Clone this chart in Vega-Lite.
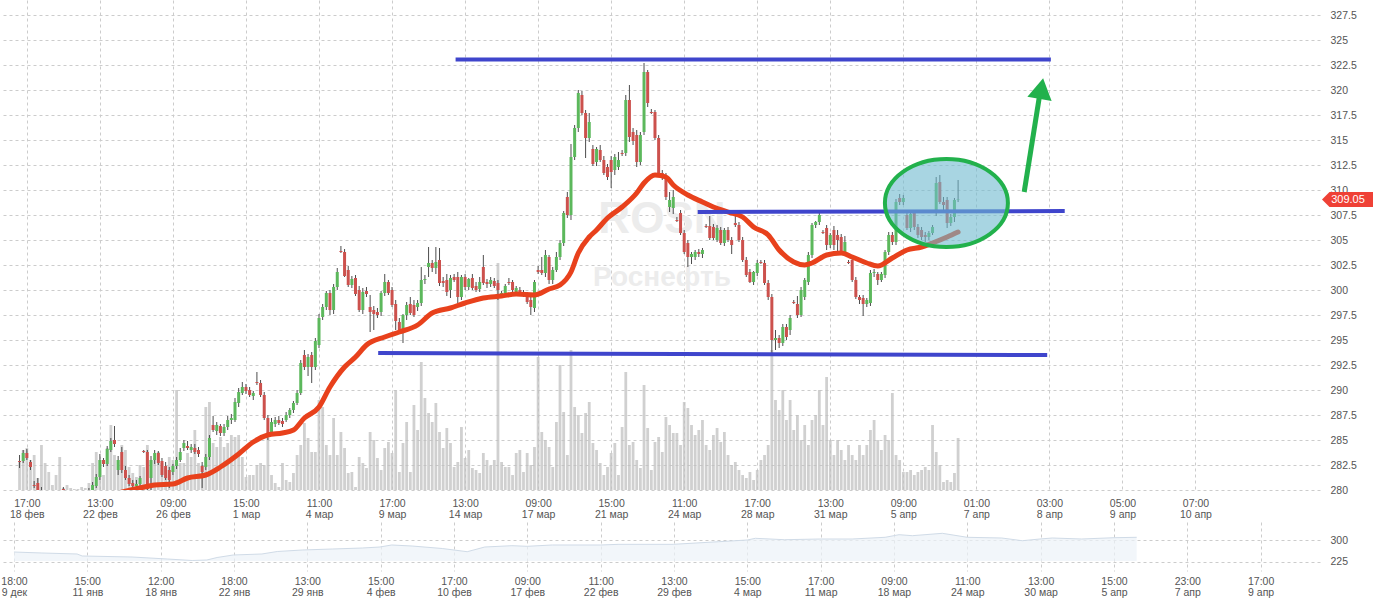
{
"$schema": "https://vega.github.io/schema/vega-lite/v6.json",
"padding": 0,
"background": "#ffffff",
"spacing": 2,
"config": {"view": {"stroke": null}, "axis": {"labelFont": "Liberation Sans", "labelFontSize": 10.5, "labelColor": "#555555", "gridColor": "#cccccc", "gridDash": [3, 3], "domain": false, "ticks": false}},
"datasets": {
"candles": [
{"i":0,"o":282.9,"h":283.5,"l":282.2,"c":282.8,"v":28},
{"i":1,"o":282.9,"h":284.0,"l":282.7,"c":283.7,"v":40},
{"i":2,"o":283.7,"h":284.1,"l":283.0,"c":283.2,"v":42},
{"i":3,"o":282.8,"h":283.0,"l":282.0,"c":282.3,"v":30},
{"i":4,"o":280.5,"h":280.9,"l":280.2,"c":280.4,"v":35},
{"i":5,"o":280.7,"h":281.2,"l":279.6,"c":280.0,"v":12},
{"i":6,"o":280.0,"h":280.3,"l":279.3,"c":279.6,"v":45},
{"i":7,"o":279.5,"h":279.8,"l":279.0,"c":279.2,"v":27},
{"i":8,"o":279.2,"h":279.6,"l":278.8,"c":279.3,"v":18},
{"i":9,"o":279.3,"h":279.7,"l":278.9,"c":279.0,"v":5},
{"i":10,"o":279.0,"h":279.4,"l":278.6,"c":278.9,"v":15},
{"i":11,"o":278.9,"h":279.5,"l":278.7,"c":279.3,"v":33},
{"i":12,"o":280.1,"h":280.3,"l":279.5,"c":280.0,"v":2},
{"i":13,"o":279.6,"h":279.9,"l":279.2,"c":279.4,"v":5},
{"i":14,"o":279.4,"h":279.7,"l":279.0,"c":279.5,"v":2},
{"i":15,"o":279.5,"h":279.8,"l":279.1,"c":279.3,"v":1},
{"i":16,"o":279.3,"h":279.6,"l":278.9,"c":279.2,"v":1},
{"i":17,"o":279.2,"h":279.7,"l":279.0,"c":279.6,"v":3},
{"i":18,"o":279.6,"h":279.9,"l":279.3,"c":279.7,"v":2},
{"i":19,"o":279.7,"h":280.2,"l":279.5,"c":280.0,"v":7},
{"i":20,"o":280.0,"h":280.8,"l":279.8,"c":280.5,"v":27},
{"i":21,"o":280.4,"h":281.6,"l":280.2,"c":281.3,"v":38},
{"i":22,"o":281.3,"h":283.6,"l":281.0,"c":283.0,"v":30},
{"i":23,"o":283.0,"h":283.2,"l":282.3,"c":282.6,"v":15},
{"i":24,"o":282.6,"h":284.4,"l":282.4,"c":284.1,"v":42},
{"i":25,"o":284.0,"h":285.2,"l":283.8,"c":284.9,"v":65},
{"i":26,"o":285.0,"h":286.4,"l":284.3,"c":284.6,"v":35},
{"i":27,"o":282.0,"h":283.4,"l":281.5,"c":283.0,"v":30},
{"i":28,"o":283.8,"h":284.3,"l":281.7,"c":282.0,"v":45},
{"i":29,"o":282.0,"h":282.4,"l":281.0,"c":281.2,"v":40},
{"i":30,"o":281.2,"h":281.5,"l":280.4,"c":280.6,"v":23},
{"i":31,"o":280.7,"h":281.0,"l":280.2,"c":280.4,"v":17},
{"i":32,"o":280.4,"h":281.0,"l":280.1,"c":280.6,"v":13},
{"i":33,"o":280.6,"h":281.4,"l":280.4,"c":281.2,"v":25},
{"i":34,"o":283.9,"h":284.0,"l":283.7,"c":283.8,"v":23},
{"i":35,"o":283.8,"h":284.0,"l":280.0,"c":280.1,"v":45},
{"i":36,"o":281.2,"h":283.4,"l":280.0,"c":283.0,"v":30},
{"i":37,"o":283.0,"h":284.0,"l":282.6,"c":283.7,"v":32},
{"i":38,"o":283.7,"h":283.9,"l":282.5,"c":282.7,"v":38},
{"i":39,"o":282.9,"h":283.2,"l":281.3,"c":281.5,"v":27},
{"i":40,"o":282.4,"h":282.8,"l":281.0,"c":281.2,"v":22},
{"i":41,"o":282.0,"h":282.3,"l":280.2,"c":281.0,"v":33},
{"i":42,"o":281.8,"h":282.6,"l":281.5,"c":282.4,"v":30},
{"i":43,"o":282.4,"h":283.3,"l":282.1,"c":283.0,"v":100},
{"i":44,"o":283.0,"h":284.2,"l":282.8,"c":283.8,"v":27},
{"i":45,"o":284.2,"h":285.0,"l":283.9,"c":284.7,"v":27},
{"i":46,"o":284.4,"h":284.9,"l":284.0,"c":284.2,"v":37},
{"i":47,"o":284.0,"h":284.6,"l":283.7,"c":284.3,"v":33},
{"i":48,"o":284.2,"h":284.6,"l":283.6,"c":283.8,"v":60},
{"i":49,"o":284.0,"h":284.3,"l":283.3,"c":283.6,"v":27},
{"i":50,"o":282.4,"h":282.8,"l":280.2,"c":281.8,"v":25},
{"i":51,"o":282.3,"h":283.6,"l":282.0,"c":283.3,"v":83},
{"i":52,"o":283.3,"h":285.5,"l":283.0,"c":285.2,"v":88},
{"i":53,"o":286.5,"h":287.4,"l":285.8,"c":286.0,"v":47},
{"i":54,"o":285.9,"h":286.8,"l":285.5,"c":286.5,"v":43},
{"i":55,"o":286.4,"h":286.6,"l":285.4,"c":285.7,"v":53},
{"i":56,"o":285.7,"h":286.6,"l":285.4,"c":286.3,"v":43},
{"i":57,"o":286.3,"h":287.4,"l":286.0,"c":287.0,"v":47},
{"i":58,"o":287.0,"h":287.6,"l":286.6,"c":287.2,"v":55},
{"i":59,"o":287.0,"h":289.2,"l":286.8,"c":288.8,"v":53},
{"i":60,"o":288.7,"h":290.2,"l":288.3,"c":289.8,"v":55},
{"i":61,"o":289.7,"h":290.8,"l":289.5,"c":290.3,"v":33},
{"i":62,"o":290.3,"h":290.6,"l":289.6,"c":289.9,"v":13},
{"i":63,"o":290.0,"h":290.3,"l":289.3,"c":289.5,"v":15},
{"i":64,"o":289.4,"h":289.9,"l":289.0,"c":289.7,"v":15},
{"i":65,"o":290.8,"h":291.8,"l":290.5,"c":290.7,"v":25},
{"i":66,"o":290.7,"h":291.0,"l":289.3,"c":289.5,"v":27},
{"i":67,"o":289.5,"h":289.8,"l":287.0,"c":287.2,"v":25},
{"i":68,"o":287.2,"h":287.5,"l":285.0,"c":285.7,"v":52},
{"i":69,"o":285.8,"h":287.2,"l":285.5,"c":286.8,"v":15},
{"i":70,"o":286.6,"h":287.3,"l":286.3,"c":287.0,"v":7},
{"i":71,"o":287.0,"h":287.4,"l":286.5,"c":286.7,"v":3},
{"i":72,"o":286.9,"h":287.2,"l":286.3,"c":286.6,"v":27},
{"i":73,"o":287.0,"h":287.8,"l":286.8,"c":287.5,"v":10},
{"i":74,"o":287.5,"h":288.2,"l":287.2,"c":288.0,"v":8},
{"i":75,"o":288.0,"h":288.9,"l":287.7,"c":288.7,"v":17},
{"i":76,"o":288.7,"h":290.0,"l":288.5,"c":289.7,"v":35},
{"i":77,"o":289.7,"h":293.0,"l":289.5,"c":292.7,"v":45},
{"i":78,"o":293.5,"h":294.0,"l":292.0,"c":292.3,"v":67},
{"i":79,"o":292.3,"h":293.6,"l":291.4,"c":293.3,"v":52},
{"i":80,"o":293.5,"h":293.8,"l":290.7,"c":292.3,"v":38},
{"i":81,"o":292.3,"h":295.2,"l":292.0,"c":294.9,"v":38},
{"i":82,"o":294.5,"h":297.6,"l":294.2,"c":297.2,"v":90},
{"i":83,"o":297.3,"h":298.6,"l":297.0,"c":298.3,"v":83},
{"i":84,"o":298.3,"h":299.9,"l":298.0,"c":299.7,"v":45},
{"i":85,"o":299.7,"h":300.0,"l":297.5,"c":298.0,"v":35},
{"i":86,"o":298.0,"h":300.6,"l":297.6,"c":300.3,"v":72},
{"i":87,"o":300.3,"h":302.2,"l":300.0,"c":301.8,"v":35},
{"i":88,"o":303.9,"h":304.4,"l":303.7,"c":303.8,"v":58},
{"i":89,"o":303.8,"h":304.1,"l":301.3,"c":301.4,"v":42},
{"i":90,"o":302.0,"h":302.4,"l":300.3,"c":300.5,"v":17},
{"i":91,"o":300.5,"h":301.4,"l":300.2,"c":301.1,"v":18},
{"i":92,"o":301.2,"h":301.5,"l":299.4,"c":299.6,"v":3},
{"i":93,"o":300.0,"h":300.4,"l":297.8,"c":298.0,"v":33},
{"i":94,"o":298.0,"h":300.2,"l":297.6,"c":299.8,"v":27},
{"i":95,"o":299.9,"h":300.3,"l":299.3,"c":299.6,"v":22},
{"i":96,"o":298.3,"h":299.5,"l":295.8,"c":297.8,"v":58},
{"i":97,"o":298.0,"h":298.4,"l":296.0,"c":297.6,"v":50},
{"i":98,"o":297.8,"h":298.2,"l":297.2,"c":297.5,"v":32},
{"i":99,"o":297.8,"h":299.9,"l":297.4,"c":299.7,"v":20},
{"i":100,"o":299.7,"h":301.6,"l":299.4,"c":300.8,"v":42},
{"i":101,"o":300.8,"h":301.0,"l":299.5,"c":299.7,"v":48},
{"i":102,"o":300.0,"h":300.3,"l":298.3,"c":298.5,"v":37},
{"i":103,"o":298.6,"h":299.0,"l":296.0,"c":296.9,"v":100},
{"i":104,"o":296.8,"h":297.2,"l":295.6,"c":296.0,"v":18},
{"i":105,"o":296.0,"h":297.6,"l":294.7,"c":297.5,"v":47},
{"i":106,"o":297.5,"h":298.8,"l":297.0,"c":298.5,"v":68},
{"i":107,"o":298.6,"h":299.3,"l":297.5,"c":297.7,"v":18},
{"i":108,"o":298.5,"h":299.0,"l":297.3,"c":297.5,"v":85},
{"i":109,"o":298.3,"h":299.0,"l":297.9,"c":298.7,"v":60},
{"i":110,"o":298.7,"h":302.3,"l":298.4,"c":301.0,"v":128},
{"i":111,"o":301.0,"h":301.5,"l":300.6,"c":301.1,"v":92},
{"i":112,"o":302.3,"h":304.3,"l":301.3,"c":302.7,"v":77},
{"i":113,"o":302.7,"h":303.0,"l":301.8,"c":302.2,"v":68},
{"i":114,"o":302.2,"h":304.3,"l":301.6,"c":302.8,"v":87},
{"i":115,"o":303.0,"h":304.2,"l":300.4,"c":300.7,"v":58},
{"i":116,"o":300.9,"h":301.3,"l":300.3,"c":300.7,"v":42},
{"i":117,"o":301.0,"h":301.6,"l":299.4,"c":299.8,"v":62},
{"i":118,"o":300.0,"h":301.5,"l":299.2,"c":301.2,"v":47},
{"i":119,"o":301.3,"h":301.6,"l":300.8,"c":301.0,"v":23},
{"i":120,"o":301.3,"h":301.8,"l":298.7,"c":299.3,"v":28},
{"i":121,"o":299.3,"h":301.5,"l":299.0,"c":301.3,"v":63},
{"i":122,"o":301.3,"h":301.6,"l":300.0,"c":300.3,"v":32},
{"i":123,"o":300.3,"h":301.2,"l":300.0,"c":301.1,"v":40},
{"i":124,"o":301.2,"h":301.6,"l":300.0,"c":300.2,"v":22},
{"i":125,"o":300.4,"h":300.8,"l":299.8,"c":300.0,"v":20},
{"i":126,"o":300.1,"h":301.3,"l":299.8,"c":300.8,"v":17},
{"i":127,"o":302.3,"h":303.5,"l":300.5,"c":300.7,"v":37},
{"i":128,"o":300.8,"h":301.1,"l":300.2,"c":300.6,"v":30},
{"i":129,"o":300.6,"h":301.3,"l":300.3,"c":301.0,"v":24},
{"i":130,"o":300.9,"h":301.2,"l":300.2,"c":300.4,"v":30},
{"i":131,"o":300.7,"h":301.0,"l":299.0,"c":300.0,"v":227},
{"i":132,"o":299.6,"h":299.9,"l":299.3,"c":299.7,"v":28},
{"i":133,"o":299.7,"h":300.6,"l":299.4,"c":300.4,"v":23},
{"i":134,"o":300.8,"h":301.2,"l":300.5,"c":300.7,"v":23},
{"i":135,"o":300.8,"h":301.0,"l":299.8,"c":300.0,"v":15},
{"i":136,"o":299.8,"h":300.4,"l":299.5,"c":300.2,"v":37},
{"i":137,"o":300.0,"h":300.3,"l":299.5,"c":299.7,"v":40},
{"i":138,"o":299.8,"h":300.0,"l":299.3,"c":299.5,"v":18},
{"i":139,"o":299.5,"h":299.8,"l":298.6,"c":298.8,"v":37},
{"i":140,"o":299.0,"h":299.4,"l":297.5,"c":298.3,"v":25},
{"i":141,"o":298.2,"h":301.0,"l":297.8,"c":300.8,"v":43},
{"i":142,"o":302.0,"h":302.4,"l":301.6,"c":301.8,"v":133},
{"i":143,"o":302.0,"h":303.3,"l":301.5,"c":301.7,"v":58},
{"i":144,"o":301.7,"h":304.0,"l":301.3,"c":303.5,"v":50},
{"i":145,"o":303.3,"h":303.5,"l":300.6,"c":301.0,"v":43},
{"i":146,"o":301.0,"h":302.3,"l":300.6,"c":302.0,"v":23},
{"i":147,"o":302.0,"h":303.8,"l":301.8,"c":303.3,"v":68},
{"i":148,"o":303.3,"h":305.0,"l":303.0,"c":304.7,"v":125},
{"i":149,"o":304.7,"h":307.9,"l":304.4,"c":307.7,"v":78},
{"i":150,"o":309.3,"h":309.8,"l":307.2,"c":307.5,"v":35},
{"i":151,"o":307.5,"h":314.6,"l":307.0,"c":313.3,"v":140},
{"i":152,"o":313.3,"h":316.5,"l":313.0,"c":316.2,"v":83},
{"i":153,"o":316.2,"h":320.0,"l":315.8,"c":319.7,"v":75},
{"i":154,"o":319.5,"h":319.9,"l":317.5,"c":317.7,"v":57},
{"i":155,"o":317.7,"h":318.0,"l":313.2,"c":315.2,"v":77},
{"i":156,"o":315.2,"h":317.7,"l":314.8,"c":316.8,"v":88},
{"i":157,"o":314.1,"h":314.5,"l":312.4,"c":312.6,"v":47},
{"i":158,"o":312.8,"h":314.3,"l":312.4,"c":314.1,"v":40},
{"i":159,"o":314.0,"h":314.5,"l":312.8,"c":313.0,"v":27},
{"i":160,"o":313.0,"h":313.4,"l":311.5,"c":311.7,"v":15},
{"i":161,"o":312.3,"h":312.6,"l":311.0,"c":311.3,"v":23},
{"i":162,"o":313.0,"h":313.4,"l":310.2,"c":311.8,"v":37},
{"i":163,"o":312.0,"h":313.6,"l":311.5,"c":313.3,"v":47},
{"i":164,"o":312.3,"h":313.8,"l":312.0,"c":313.0,"v":15},
{"i":165,"o":313.7,"h":314.0,"l":313.4,"c":313.6,"v":63},
{"i":166,"o":313.7,"h":319.5,"l":313.4,"c":319.0,"v":118},
{"i":167,"o":319.0,"h":320.5,"l":314.8,"c":315.3,"v":45},
{"i":168,"o":315.8,"h":316.2,"l":314.5,"c":314.9,"v":48},
{"i":169,"o":315.5,"h":316.0,"l":312.3,"c":312.8,"v":30},
{"i":170,"o":312.8,"h":315.8,"l":312.5,"c":315.5,"v":22},
{"i":171,"o":315.8,"h":322.7,"l":315.5,"c":321.8,"v":105},
{"i":172,"o":321.8,"h":322.0,"l":318.3,"c":318.7,"v":62},
{"i":173,"o":317.8,"h":318.1,"l":317.6,"c":317.7,"v":20},
{"i":174,"o":317.8,"h":318.0,"l":315.0,"c":315.2,"v":48},
{"i":175,"o":315.2,"h":315.5,"l":311.5,"c":311.7,"v":53},
{"i":176,"o":311.7,"h":312.0,"l":311.0,"c":311.3,"v":38},
{"i":177,"o":311.3,"h":311.7,"l":309.0,"c":309.3,"v":73},
{"i":178,"o":308.3,"h":309.8,"l":307.8,"c":309.0,"v":65},
{"i":179,"o":308.2,"h":310.0,"l":307.6,"c":309.3,"v":57},
{"i":180,"o":307.0,"h":307.3,"l":306.8,"c":306.9,"v":57},
{"i":181,"o":307.7,"h":308.0,"l":305.5,"c":305.7,"v":45},
{"i":182,"o":305.7,"h":306.0,"l":303.6,"c":303.8,"v":88},
{"i":183,"o":304.7,"h":305.0,"l":302.3,"c":303.3,"v":82},
{"i":184,"o":303.3,"h":303.8,"l":302.6,"c":303.6,"v":65},
{"i":185,"o":303.3,"h":304.0,"l":303.0,"c":303.8,"v":55},
{"i":186,"o":303.8,"h":304.1,"l":303.3,"c":303.6,"v":60},
{"i":187,"o":303.6,"h":304.2,"l":303.2,"c":304.0,"v":70},
{"i":188,"o":306.4,"h":306.6,"l":306.2,"c":306.3,"v":45},
{"i":189,"o":306.4,"h":307.4,"l":305.0,"c":305.2,"v":40},
{"i":190,"o":306.3,"h":306.6,"l":305.0,"c":305.2,"v":55},
{"i":191,"o":305.0,"h":306.5,"l":304.8,"c":306.2,"v":62},
{"i":192,"o":306.0,"h":306.3,"l":304.5,"c":304.7,"v":48},
{"i":193,"o":304.7,"h":306.2,"l":304.4,"c":306.0,"v":58},
{"i":194,"o":306.0,"h":306.3,"l":304.8,"c":305.0,"v":35},
{"i":195,"o":305.0,"h":305.3,"l":303.6,"c":304.5,"v":25},
{"i":196,"o":306.7,"h":307.5,"l":306.3,"c":306.5,"v":28},
{"i":197,"o":306.5,"h":306.8,"l":304.8,"c":305.0,"v":20},
{"i":198,"o":305.0,"h":305.3,"l":302.8,"c":303.0,"v":15},
{"i":199,"o":303.0,"h":303.3,"l":301.3,"c":301.5,"v":12},
{"i":200,"o":301.8,"h":302.1,"l":300.7,"c":300.8,"v":18},
{"i":201,"o":300.8,"h":301.9,"l":300.5,"c":301.8,"v":10},
{"i":202,"o":301.7,"h":303.0,"l":301.4,"c":302.7,"v":20},
{"i":203,"o":302.8,"h":303.0,"l":302.6,"c":302.7,"v":30},
{"i":204,"o":302.7,"h":303.0,"l":300.5,"c":300.7,"v":35},
{"i":205,"o":300.7,"h":301.0,"l":299.0,"c":299.3,"v":45},
{"i":206,"o":299.3,"h":299.6,"l":293.7,"c":295.0,"v":140},
{"i":207,"o":295.0,"h":296.0,"l":294.0,"c":295.2,"v":90},
{"i":208,"o":295.2,"h":295.5,"l":294.2,"c":294.7,"v":80},
{"i":209,"o":294.7,"h":296.6,"l":294.4,"c":296.3,"v":100},
{"i":210,"o":296.3,"h":296.6,"l":295.0,"c":295.3,"v":70},
{"i":211,"o":296.0,"h":297.5,"l":295.5,"c":297.2,"v":90},
{"i":212,"o":298.8,"h":299.0,"l":298.6,"c":298.7,"v":60},
{"i":213,"o":298.6,"h":299.4,"l":297.2,"c":297.5,"v":75},
{"i":214,"o":297.5,"h":300.3,"l":297.3,"c":300.0,"v":50},
{"i":215,"o":299.3,"h":301.2,"l":299.0,"c":301.0,"v":65},
{"i":216,"o":300.8,"h":303.8,"l":300.5,"c":303.5,"v":45},
{"i":217,"o":303.5,"h":306.7,"l":303.2,"c":306.5,"v":70},
{"i":218,"o":306.5,"h":306.9,"l":306.2,"c":306.8,"v":75},
{"i":219,"o":306.8,"h":308.0,"l":306.5,"c":307.5,"v":100},
{"i":220,"o":305.8,"h":306.0,"l":305.6,"c":305.7,"v":65},
{"i":221,"o":306.2,"h":306.5,"l":304.0,"c":304.5,"v":113},
{"i":222,"o":304.5,"h":305.7,"l":304.2,"c":305.5,"v":50},
{"i":223,"o":306.0,"h":306.4,"l":304.0,"c":304.5,"v":35},
{"i":224,"o":305.5,"h":306.0,"l":303.5,"c":305.0,"v":50},
{"i":225,"o":305.3,"h":305.6,"l":303.6,"c":303.8,"v":40},
{"i":226,"o":303.8,"h":305.4,"l":303.5,"c":304.8,"v":30},
{"i":227,"o":302.8,"h":303.0,"l":302.6,"c":302.7,"v":45},
{"i":228,"o":303.0,"h":303.3,"l":300.8,"c":301.0,"v":35},
{"i":229,"o":301.0,"h":301.3,"l":299.1,"c":299.3,"v":30},
{"i":230,"o":299.3,"h":299.5,"l":298.6,"c":299.0,"v":45},
{"i":231,"o":299.2,"h":299.5,"l":297.4,"c":298.6,"v":35},
{"i":232,"o":298.6,"h":299.2,"l":298.3,"c":299.0,"v":45},
{"i":233,"o":298.7,"h":302.0,"l":298.4,"c":301.7,"v":60},
{"i":234,"o":301.7,"h":302.1,"l":301.3,"c":301.8,"v":70},
{"i":235,"o":301.6,"h":301.8,"l":300.5,"c":301.0,"v":50},
{"i":236,"o":301.0,"h":301.8,"l":300.8,"c":301.6,"v":40},
{"i":237,"o":301.5,"h":304.0,"l":301.2,"c":303.8,"v":55},
{"i":238,"o":303.8,"h":305.8,"l":303.5,"c":305.5,"v":50},
{"i":239,"o":305.5,"h":305.8,"l":304.5,"c":304.8,"v":97},
{"i":240,"o":304.8,"h":309.1,"l":304.5,"c":308.8,"v":35},
{"i":241,"o":309.2,"h":309.6,"l":308.5,"c":308.8,"v":30},
{"i":242,"o":308.8,"h":309.5,"l":308.5,"c":309.2,"v":18},
{"i":243,"o":307.5,"h":307.8,"l":306.0,"c":306.2,"v":18},
{"i":244,"o":306.2,"h":307.8,"l":305.8,"c":307.6,"v":20},
{"i":245,"o":307.7,"h":308.0,"l":306.0,"c":306.3,"v":15},
{"i":246,"o":306.3,"h":306.6,"l":305.2,"c":305.5,"v":18},
{"i":247,"o":306.0,"h":306.3,"l":305.0,"c":305.3,"v":20},
{"i":248,"o":305.5,"h":305.8,"l":304.8,"c":305.3,"v":23},
{"i":249,"o":305.3,"h":305.9,"l":305.0,"c":305.7,"v":20},
{"i":250,"o":305.7,"h":306.5,"l":305.5,"c":306.3,"v":65},
{"i":251,"o":307.7,"h":311.3,"l":307.4,"c":310.7,"v":38},
{"i":252,"o":310.8,"h":311.5,"l":308.6,"c":308.8,"v":25},
{"i":253,"o":308.8,"h":309.3,"l":308.0,"c":308.5,"v":8},
{"i":254,"o":309.0,"h":309.3,"l":306.2,"c":306.7,"v":10},
{"i":255,"o":306.7,"h":307.6,"l":306.4,"c":307.3,"v":8},
{"i":256,"o":307.3,"h":309.2,"l":306.8,"c":309.0,"v":17},
{"i":257,"o":309.0,"h":311.0,"l":308.8,"c":309.05,"v":52}
],
"ma": [
{"i":27,"m":279.7},{"i":33,"m":280.2},{"i":37,"m":280.5},{"i":42,"m":280.6},{"i":46,"m":281.2},{"i":51,"m":281.5},{"i":55,"m":282.3},{"i":60,"m":283.6},{"i":64,"m":284.8},{"i":68,"m":285.5},{"i":72,"m":285.7},{"i":75,"m":286.0},{"i":78,"m":287.2},{"i":82,"m":288.3},{"i":85,"m":290.3},{"i":89,"m":292.3},{"i":92,"m":293.3},{"i":95,"m":294.5},{"i":100,"m":295.3},{"i":104,"m":295.8},{"i":109,"m":296.5},{"i":113,"m":297.7},{"i":118,"m":298.2},{"i":122,"m":298.7},{"i":127,"m":299.2},{"i":132,"m":299.4},{"i":136,"m":299.6},{"i":141,"m":299.5},{"i":145,"m":300.1},{"i":148,"m":300.5},{"i":151,"m":301.8},{"i":153,"m":303.7},{"i":156,"m":305.3},{"i":158,"m":306.0},{"i":161,"m":307.2},{"i":165,"m":308.3},{"i":169,"m":309.7},{"i":171,"m":310.7},{"i":174,"m":311.5},{"i":177,"m":311.3},{"i":179,"m":310.5},{"i":183,"m":309.5},{"i":187,"m":308.8},{"i":190,"m":308.3},{"i":194,"m":307.8},{"i":198,"m":307.3},{"i":201,"m":306.3},{"i":205,"m":305.5},{"i":208,"m":304.0},{"i":212,"m":302.8},{"i":215,"m":302.5},{"i":217,"m":302.7},{"i":221,"m":303.5},{"i":225,"m":303.7},{"i":228,"m":303.3},{"i":232,"m":302.7},{"i":235,"m":302.4},{"i":239,"m":303.2},{"i":243,"m":304.0},{"i":247,"m":304.3},{"i":250,"m":304.7},{"i":254,"m":305.3},{"i":257,"m":305.8}
],
"levels": [
{"i":119.4,"i2":282.4,"p":323.05,"p2":323.05},
{"i":185.7,"i2":286.2,"p":307.8,"p2":307.9},
{"i":98.2,"i2":281.4,"p":293.7,"p2":293.5}
],
"ellipse": [{"i":253.8,"p":308.7}],
"arrow": [{"i":275.1,"i2":279.2,"p":309.8,"p2":319.2}],
"head": [{"i":279.7,"p":319.96}],
"tag": [{"p":309.05,"t":"309.05"}],
"marks": [{"i":175.9,"p":307.0,"t":"ROSN"},{"i":175.9,"p":301.2,"t":"Роснефть"}],
"nav": [
{"k":0,"v":259},{"k":0.38,"v":255.7},{"k":0.86,"v":252.3},{"k":0.93,"v":245.5},{"k":1.61,"v":242},{"k":2.09,"v":235.2},{"k":2.43,"v":230.1},{"k":2.63,"v":231.8},{"k":2.77,"v":240.3},{"k":2.99,"v":248.9},{"k":3.38,"v":252.3},{"k":3.59,"v":260.8},{"k":3.93,"v":265.9},{"k":4.34,"v":269.3},{"k":4.75,"v":272.7},{"k":4.99,"v":276.1},{"k":5.15,"v":283},{"k":5.43,"v":279.5},{"k":5.84,"v":271},{"k":6.0,"v":265.9},{"k":6.18,"v":260.1},{"k":6.42,"v":276.1},{"k":6.79,"v":280.6},{"k":7.0,"v":278.5},{"k":7.34,"v":283},{"k":8.0,"v":283},{"k":8.25,"v":285.3},{"k":8.99,"v":285.3},{"k":9.61,"v":294.2},{"k":10.0,"v":300},{"k":10.11,"v":305.8},{"k":10.51,"v":301},{"k":10.99,"v":303.4},{"k":11.43,"v":303.4},{"k":11.88,"v":309.2},{"k":12.07,"v":318.1},{"k":12.25,"v":314.7},{"k":12.66,"v":322.8},{"k":13.0,"v":309.2},{"k":13.47,"v":306.8},{"k":13.75,"v":297.6},{"k":13.99,"v":303.4},{"k":14.16,"v":306.8},{"k":14.56,"v":303.4},{"k":15.0,"v":307.8},{"k":15.31,"v":309.2}
]
},
"vconcat": [
{
"width": 1318, "height": 490,
"encoding": {"x": {"field": "i", "type": "quantitative", "scale": {"domain": [-3.435, 354.73], "nice": false, "zero": false},
  "axis": {"title": null, "values": [2,22,42,62,82,102,122,142,162,182,202,222,242,262,282,302,322], "grid": true, "labelPadding": 8, "labelLineHeight": 11, "labelOverlap": false, "labelFlush": false,
   "labelExpr": "[['17:00','18 фев'],['13:00','22 фев'],['09:00','26 фев'],['15:00','1 мар'],['11:00','4 мар'],['17:00','9 мар'],['13:00','14 мар'],['09:00','17 мар'],['15:00','21 мар'],['11:00','24 мар'],['17:00','28 мар'],['13:00','31 мар'],['09:00','5 апр'],['01:00','7 апр'],['03:00','8 апр'],['05:00','9 апр'],['07:00','10 апр']][round((datum.value-2)/20)]"}}},
"layer": [
{"data": {"name": "candles"}, "mark": {"type": "bar", "size": 2.8, "color": "#c0c0c0", "opacity": 0.75},
 "encoding": {"y": {"field": "v", "type": "quantitative", "scale": {"domain": [0, 490], "nice": false}, "axis": null}}},
{"layer": [
 {"data": {"name": "marks"}, "mark": {"type": "text", "font": "Liberation Sans", "fontWeight": "bold", "color": "#ececec", "align": "center", "baseline": "middle"},
  "encoding": {"y": {"field": "p", "type": "quantitative", "scale": {"domain": [280, 329], "nice": false, "zero": false},
     "axis": {"title": null, "orient": "right", "values": [280,282.5,285,287.5,290,292.5,295,297.5,300,302.5,305,307.5,310,312.5,315,317.5,320,322.5,325,327.5], "grid": true, "labelPadding": 10, "labelOverlap": false, "labelFlush": false, "labelExpr": "'' + datum.value"}},
   "text": {"field": "t"}, "size": {"condition": {"test": "datum.t === 'ROSN'", "value": 44}, "value": 28}}},
 {"data": {"name": "candles"}, "mark": {"type": "rule", "color": "#4d4d4d", "strokeWidth": 1, "clip": true},
  "encoding": {"y": {"field": "l", "type": "quantitative", "scale": {"domain": [280, 329], "nice": false, "zero": false},
     "axis": {"title": null, "orient": "right", "values": [280,282.5,285,287.5,290,292.5,295,297.5,300,302.5,305,307.5,310,312.5,315,317.5,320,322.5,325,327.5], "grid": true, "labelPadding": 10, "labelOverlap": false, "labelFlush": false, "labelExpr": "'' + datum.value"}}, "y2": {"field": "h"}}},
 {"data": {"name": "candles"}, "mark": {"type": "bar", "size": 3, "clip": true},
  "encoding": {"y": {"field": "o", "type": "quantitative", "scale": {"domain": [280, 329], "nice": false, "zero": false},
     "axis": {"title": null, "orient": "right", "values": [280,282.5,285,287.5,290,292.5,295,297.5,300,302.5,305,307.5,310,312.5,315,317.5,320,322.5,325,327.5], "grid": true, "labelPadding": 10, "labelOverlap": false, "labelFlush": false, "labelExpr": "'' + datum.value"}}, "y2": {"field": "c"},
   "color": {"condition": {"test": "datum.c >= datum.o", "value": "#5cb85c"}, "value": "#cc514d"}}},
 {"data": {"name": "ma"}, "mark": {"type": "line", "color": "#e8411c", "strokeWidth": 5, "interpolate": "monotone", "clip": true, "strokeCap": "round"},
  "encoding": {"y": {"field": "m", "type": "quantitative", "scale": {"domain": [280, 329], "nice": false, "zero": false},
     "axis": {"title": null, "orient": "right", "values": [280,282.5,285,287.5,290,292.5,295,297.5,300,302.5,305,307.5,310,312.5,315,317.5,320,322.5,325,327.5], "grid": true, "labelPadding": 10, "labelOverlap": false, "labelFlush": false, "labelExpr": "'' + datum.value"}}}},
 {"data": {"name": "levels"}, "mark": {"type": "rule", "color": "#3f45cc", "strokeWidth": 4},
  "encoding": {"x2": {"field": "i2"}, "y": {"field": "p", "type": "quantitative", "scale": {"domain": [280, 329], "nice": false, "zero": false},
     "axis": {"title": null, "orient": "right", "values": [280,282.5,285,287.5,290,292.5,295,297.5,300,302.5,305,307.5,310,312.5,315,317.5,320,322.5,325,327.5], "grid": true, "labelPadding": 10, "labelOverlap": false, "labelFlush": false, "labelExpr": "'' + datum.value"}}, "y2": {"field": "p2"}}},
 {"data": {"name": "ellipse"}, "mark": {"type": "point", "shape": "M-1,0 C-1,-0.395 -0.552,-0.715 0,-0.715 C0.552,-0.715 1,-0.395 1,0 C1,0.395 0.552,0.715 0,0.715 C-0.552,0.715 -1,0.395 -1,0 Z", "size": 15129, "filled": true, "fill": "#6eb9cf", "fillOpacity": 0.6, "stroke": "#22b14c", "strokeWidth": 4, "strokeOpacity": 1, "opacity": 1},
  "encoding": {"y": {"field": "p", "type": "quantitative", "scale": {"domain": [280, 329], "nice": false, "zero": false},
     "axis": {"title": null, "orient": "right", "values": [280,282.5,285,287.5,290,292.5,295,297.5,300,302.5,305,307.5,310,312.5,315,317.5,320,322.5,325,327.5], "grid": true, "labelPadding": 10, "labelOverlap": false, "labelFlush": false, "labelExpr": "'' + datum.value"}}}},
 {"data": {"name": "arrow"}, "mark": {"type": "rule", "color": "#22b14c", "strokeWidth": 5},
  "encoding": {"x2": {"field": "i2"}, "y": {"field": "p", "type": "quantitative", "scale": {"domain": [280, 329], "nice": false, "zero": false},
     "axis": {"title": null, "orient": "right", "values": [280,282.5,285,287.5,290,292.5,295,297.5,300,302.5,305,307.5,310,312.5,315,317.5,320,322.5,325,327.5], "grid": true, "labelPadding": 10, "labelOverlap": false, "labelFlush": false, "labelExpr": "'' + datum.value"}}, "y2": {"field": "p2"}}},
 {"data": {"name": "head"}, "mark": {"type": "point", "shape": "M0,-1 L1,0.7 L-1,0.7 Z", "size": 605, "angle": 10, "filled": true, "color": "#22b14c", "opacity": 1},
  "encoding": {"y": {"field": "p", "type": "quantitative", "scale": {"domain": [280, 329], "nice": false, "zero": false},
     "axis": {"title": null, "orient": "right", "values": [280,282.5,285,287.5,290,292.5,295,297.5,300,302.5,305,307.5,310,312.5,315,317.5,320,322.5,325,327.5], "grid": true, "labelPadding": 10, "labelOverlap": false, "labelFlush": false, "labelExpr": "'' + datum.value"}}}},
 {"data": {"name": "tag"}, "mark": {"type": "point", "shape": "M0,0 L1,-1 L6.8,-1 L6.8,1 L1,1 Z", "size": 225, "filled": true, "color": "#ef4136", "opacity": 1, "xOffset": 2},
  "encoding": {"x": {"value": "width"}, "y": {"field": "p", "type": "quantitative", "scale": {"domain": [280, 329], "nice": false, "zero": false},
     "axis": {"title": null, "orient": "right", "values": [280,282.5,285,287.5,290,292.5,295,297.5,300,302.5,305,307.5,310,312.5,315,317.5,320,322.5,325,327.5], "grid": true, "labelPadding": 10, "labelOverlap": false, "labelFlush": false, "labelExpr": "'' + datum.value"}}}},
 {"data": {"name": "tag"}, "mark": {"type": "text", "color": "#ffffff", "font": "Liberation Sans", "fontSize": 11, "align": "center", "baseline": "middle", "xOffset": 28},
  "encoding": {"x": {"value": "width"}, "y": {"field": "p", "type": "quantitative", "scale": {"domain": [280, 329], "nice": false, "zero": false},
     "axis": {"title": null, "orient": "right", "values": [280,282.5,285,287.5,290,292.5,295,297.5,300,302.5,305,307.5,310,312.5,315,317.5,320,322.5,325,327.5], "grid": true, "labelPadding": 10, "labelOverlap": false, "labelFlush": false, "labelExpr": "'' + datum.value"}}, "text": {"field": "t"}}}
]}
],
"resolve": {"scale": {"y": "independent"}, "axis": {"y": "independent"}}
},
{
"width": 1318, "height": 49,
"data": {"name": "nav"},
"mark": {"type": "area", "color": "#edf2f8", "line": {"color": "#d0dbe7", "strokeWidth": 1}},
"encoding": {
 "x": {"field": "k", "type": "quantitative", "scale": {"domain": [-0.1636, 17.81], "nice": false, "zero": false},
  "axis": {"title": null, "values": [0,1,2,3,4,5,6,7,8,9,10,11,12,13,14,15,16,17], "grid": true, "labelPadding": 5, "labelLineHeight": 11, "labelOverlap": false, "labelFlush": false,
   "labelExpr": "[['18:00','9 дек'],['15:00','11 янв'],['12:00','18 янв'],['18:00','22 янв'],['13:00','29 янв'],['15:00','4 фев'],['17:00','10 фев'],['09:00','17 фев'],['11:00','22 фев'],['13:00','29 фев'],['15:00','4 мар'],['17:00','11 мар'],['09:00','18 мар'],['11:00','24 мар'],['13:00','30 мар'],['15:00','5 апр'],['23:00','7 апр'],['17:00','9 апр']][round(datum.value)]"}},
 "y": {"field": "v", "type": "quantitative", "scale": {"domain": [194.3, 361.4], "nice": false, "zero": false},
  "axis": {"title": null, "orient": "right", "values": [225, 300], "grid": true, "labelPadding": 10, "labelOverlap": false, "labelFlush": false}},
 "y2": {"datum": 228}
}
}
]
}
